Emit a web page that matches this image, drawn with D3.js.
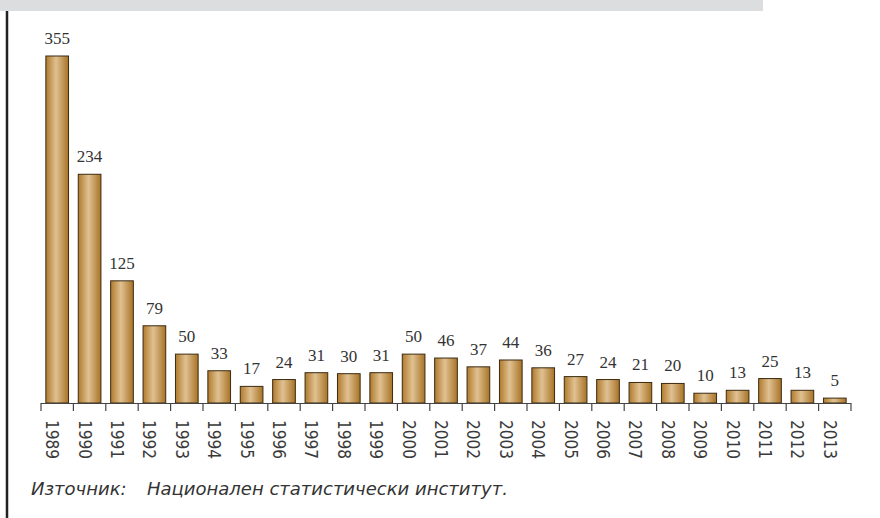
<!DOCTYPE html>
<html>
<head>
<meta charset="utf-8">
<script src="https://cdn.jsdelivr.net/npm/d3@7"></script>
<style>
  body { margin: 0; background: #fff; }
</style>
</head>
<body>
<div id="chart"></div>
<script>
// data
var years = ["1989","1990","1991","1992","1993","1994","1995","1996","1997","1998","1999","2000",
  "2001","2002","2003","2004","2005","2006","2007","2008","2009","2010","2011","2012","2013"];
var values = [355, 234, 125, 79, 50, 33, 17, 24, 31, 30, 31, 50,
  46, 37, 44, 36, 27, 24, 21, 20, 10, 13, 25, 13, 5];
var sourceLabel = "Източник:";
var sourceText = "Национален статистически институт.";

var W = 880, H = 518;
var left = 41, right = 851, base = 403;

var svg = d3.select("#chart")
  .append("svg")
  .attr("width", W)
  .attr("height", H);

// gradient for the bars
var grad = svg.append("defs").append("linearGradient")
  .attr("id", "gold")
  .attr("x1", "0%").attr("x2", "100%").attr("y1", "0%").attr("y2", "0%");
grad.append("stop").attr("offset", "0%").attr("stop-color", "#b07a2c");
grad.append("stop").attr("offset", "45%").attr("stop-color", "#e0c192");
grad.append("stop").attr("offset", "100%").attr("stop-color", "#a87326");

// gray strip at the top and frame line on the left
svg.append("rect")
  .attr("x", 0).attr("y", 0)
  .attr("width", 763).attr("height", 11)
  .attr("fill", "#dcdddf");
svg.append("line")
  .attr("x1", 7).attr("x2", 7)
  .attr("y1", 11).attr("y2", H)
  .attr("stroke", "#222")
  .attr("stroke-width", 2.5);

var x = d3.scaleBand()
  .domain(years)
  .range([left, right])
  .paddingInner(0.3)
  .paddingOuter(0.15);

var y = d3.scaleLinear()
  .domain([0, 355])
  .range([base, 56]);

// bars
svg.selectAll(".bar")
  .data(values)
  .enter().append("rect")
  .attr("class", "bar")
  .attr("x", function(d, i) { return x(years[i]); })
  .attr("y", function(d) { return y(d); })
  .attr("width", x.bandwidth())
  .attr("height", function(d) { return base - y(d); })
  .attr("fill", "url(#gold)")
  .attr("stroke", "#3b2b12")
  .attr("stroke-width", 1);

// value labels
svg.selectAll(".val")
  .data(values)
  .enter().append("text")
  .attr("class", "val")
  .attr("x", function(d, i) { return x(years[i]) + x.bandwidth() / 2; })
  .attr("y", function(d) { return y(d) - 12; })
  .attr("text-anchor", "middle")
  .attr("font-family", "Liberation Serif, serif")
  .attr("font-size", 17)
  .attr("fill", "#333")
  .text(function(d) { return d; });

// x axis with ticks between categories
var tickX = d3.range(years.length + 1).map(function(i) { return left + i * (right - left) / years.length; });

var axis = svg.append("g");
axis.append("line")
  .attr("x1", left).attr("x2", right)
  .attr("y1", base + 0.5).attr("y2", base + 0.5)
  .attr("stroke", "#444")
  .attr("stroke-width", 1.2);
axis.selectAll(".tk")
  .data(tickX)
  .enter().append("line")
  .attr("x1", function(d) { return d; })
  .attr("x2", function(d) { return d; })
  .attr("y1", base)
  .attr("y2", base + 8)
  .attr("stroke", "#444")
  .attr("stroke-width", 1.2);

axis.selectAll(".yl")
  .data(years)
  .enter().append("text")
  .attr("transform", function(d) {
    return "translate(" + (x(d) + x.bandwidth() / 2 - 6) + "," + (base + 17) + ") rotate(90)";
  })
  .attr("font-family", "Liberation Sans Narrow, DejaVu Sans Condensed, sans-serif")
  .attr("font-size", 17)
  .attr("fill", "#3a3a3a")
  .attr("dominant-baseline", "middle")
  .text(function(d) { return d; });

// source line
var src = svg.append("text")
  .attr("x", 31)
  .attr("y", 495)
  .attr("font-family", "DejaVu Sans, sans-serif")
  .attr("font-style", "italic")
  .attr("font-size", 18)
  .attr("fill", "#333");
src.append("tspan").text(sourceLabel);
src.append("tspan").attr("x", 147).text(sourceText);
</script>
</body>
</html>
